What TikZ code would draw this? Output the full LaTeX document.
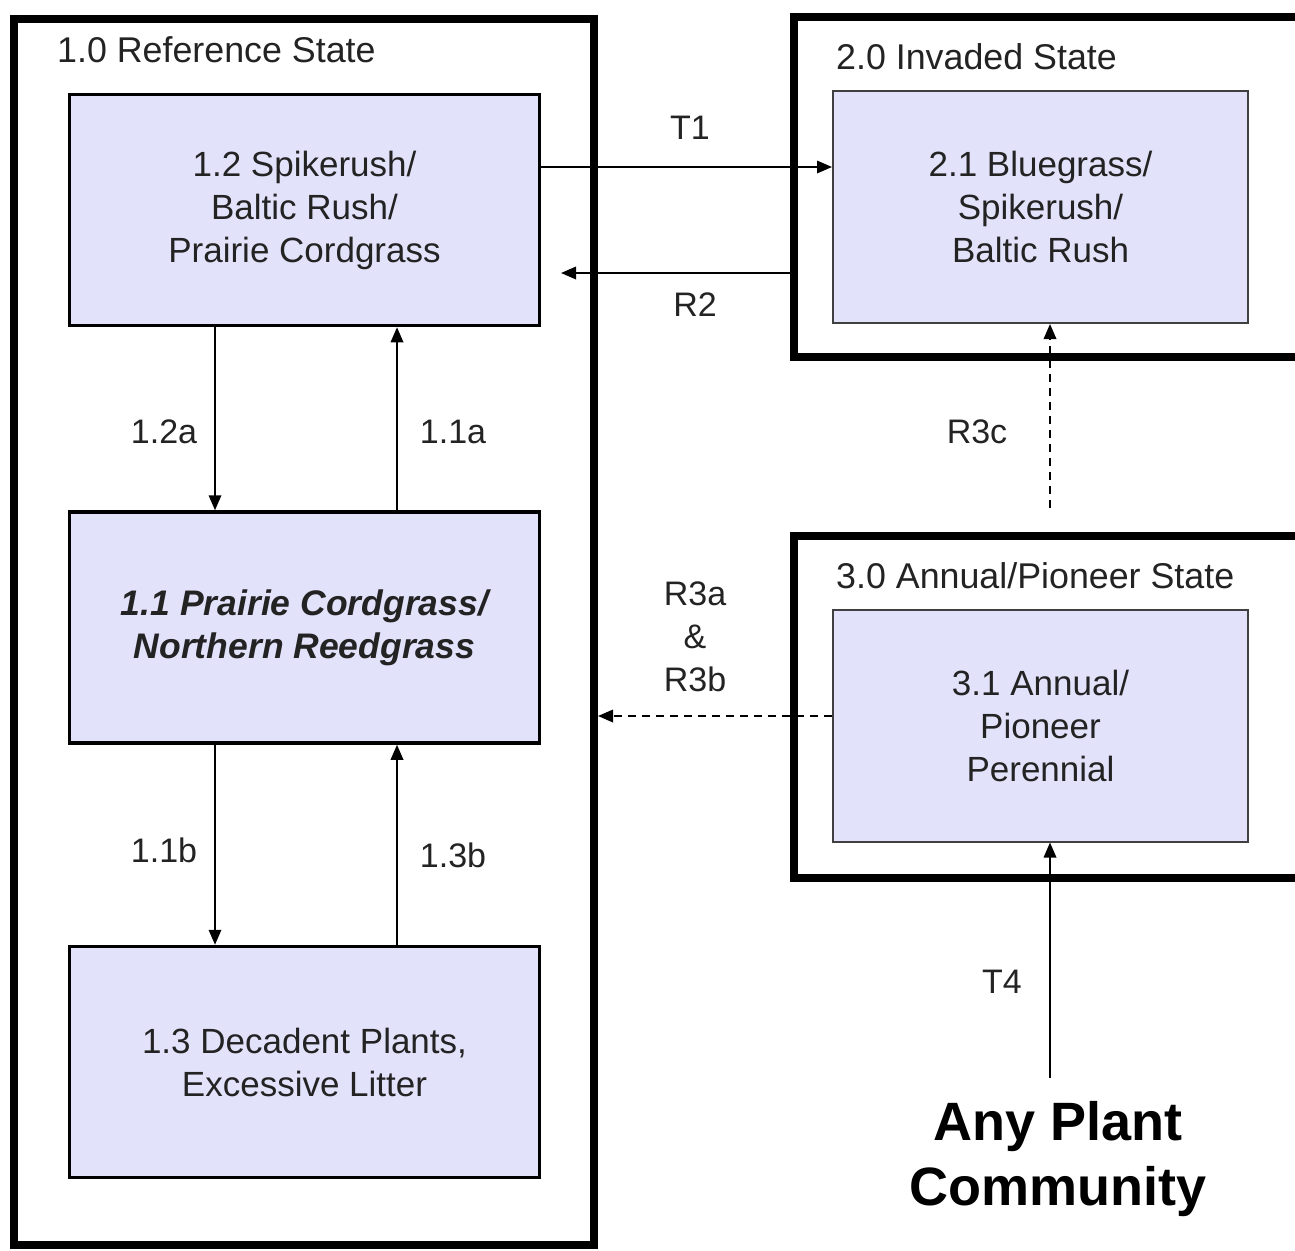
\documentclass[tikz,border=0pt]{standalone}
\usepackage{fontspec}
\setmainfont{Liberation Sans}
\usetikzlibrary{arrows.meta}
\definecolor{boxfill}{RGB}{226,226,250}
\definecolor{txt}{RGB}{35,35,35}
\begin{document}
\begin{tikzpicture}[x=1pt,y=-1pt,
  every node/.style={text=txt},
  statebox/.style={draw=black,line width=8pt,inner sep=0pt},
  commbox/.style={draw=black,line width=3.5pt,fill=boxfill,minimum width=470pt,minimum height=231pt,align=center,inner sep=0pt,font=\fontsize{35}{43}\selectfont},
  commboxb/.style={draw=black!75,line width=2pt,fill=boxfill,minimum width=415pt,minimum height=232pt,align=center,inner sep=0pt,font=\fontsize{35}{43}\selectfont},
  titletext/.style={anchor=base west,inner sep=0pt,font=\fontsize{35.8}{43}\selectfont},
  lab/.style={inner sep=0pt,align=center,font=\fontsize{34}{43}\selectfont},
  arr/.style={line width=1.8pt,-{Triangle[length=15pt,width=12.5pt]}},
  darr/.style={arr,dash pattern=on 8pt off 6pt}]
\clip (0,0) rectangle (1295,1250);
\fill[white] (0,0) rectangle (1295,1250);
% state boxes
\node[statebox,minimum width=580pt,minimum height=1226pt] (ob1) at (304,632) {};
\node[statebox,minimum width=526pt,minimum height=340pt] (ob2) at (1057,187) {};
\node[statebox,minimum width=526pt,minimum height=342pt] (ob3) at (1057,707) {};
% titles
\node[titletext] (t10) at (57,62.5) {1.0 Reference State};
\node[titletext] (t20) at (836,69.5) {2.0 Invaded State};
\node[titletext] (t30) at (836,588.5) {3.0 Annual/Pioneer State};
% community boxes
\node[commbox] (b12) at (304.5,210) {1.2 Spikerush/\\Baltic Rush/\\Prairie Cordgrass};
\node[commbox,font=\bfseries\itshape\fontsize{35.5}{43}\selectfont] (b11) at (304.5,627.5) {1.1 Prairie Cordgrass/\\Northern Reedgrass};
\node[commbox] (b13) at (304.5,1062) {1.3 Decadent Plants,\\Excessive Litter};
\node[commboxb] (b21) at (1040.5,207) {2.1 Bluegrass/\\Spikerush/\\Baltic Rush};
\node[commboxb] (b31) at (1040.5,725.5) {3.1 Annual/\\Pioneer\\Perennial};
% any plant community
\node[font=\bfseries\fontsize{54}{65}\selectfont,align=center,text=black,inner sep=0pt] (any) at (1058,1159) {Any Plant\\Community};
% free ends
\coordinate (r2end) at (561,273);
\coordinate (r3cs) at (1050,508);
\coordinate (t4s) at (1050,1078);
% arrows within reference state
\draw[arr] (b12.south -| 215,0) -- (b11.north -| 215,0);
\draw[arr] (b11.north -| 397,0) -- (b12.south -| 397,0);
\draw[arr] (b11.south -| 215,0) -- (b13.north -| 215,0);
\draw[arr] (b13.north -| 397,0) -- (b11.south -| 397,0);
% transitions
\draw[arr] (b12.east |- 0,167) -- (b21.west |- 0,167);
\draw[arr] (ob2.west |- 0,273) -- (r2end);
\draw[darr] (b31.west |- 0,716) -- (ob1.east |- 0,716);
\draw[darr] (r3cs) -- (b21.south -| 1050,0);
\draw[arr] (t4s) -- (b31.south -| 1050,0);
% labels
\node[lab] (l12a) at (164,432) {1.2a};
\node[lab] (l11a) at (453,432) {1.1a};
\node[lab] (l11b) at (164,850) {1.1b};
\node[lab] (l13b) at (453,855) {1.3b};
\node[lab] (lt1) at (690,128) {T1};
\node[lab] (lr2) at (695,305) {R2};
\node[lab] (lr3c) at (977,432) {R3c};
\node[lab] (lr3ab) at (695,637) {R3a\\\&\\R3b};
\node[lab] (lt4) at (1002,982) {T4};
\end{tikzpicture}
\end{document}
